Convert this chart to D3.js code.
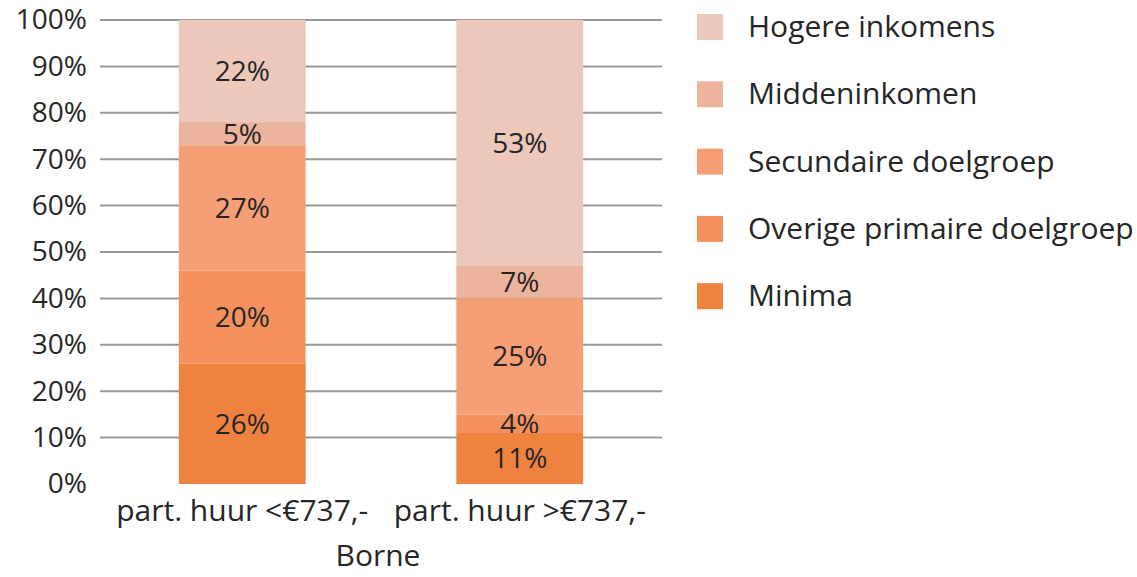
<!DOCTYPE html>
<html>
<head>
<meta charset="utf-8">
<script src="https://cdn.jsdelivr.net/npm/d3@7"></script>
<style>
  body { margin: 0; background: #fff; }
  svg text { font-family: "Open Sans", sans-serif; fill: #262626; }
</style>
</head>
<body>
<div id="chart"></div>
<script>
// data
const categories = ['part. huur <€737,-', 'part. huur >€737,-']
const groupLabel = 'Borne'
const seriesNames = ['Minima', 'Overige primaire doelgroep', 'Secundaire doelgroep', 'Middeninkomen', 'Hogere inkomens']
const minima = [26, 11]
const overige = [20, 4]
const secundaire = [27, 25]
const midden = [5, 7]
const hogere = [22, 53]
const yTicks = [0, 10, 20, 30, 40, 50, 60, 70, 80, 90, 100]
const colors = ['#ef823f', '#f4915e', '#f69f77', '#edb49d', '#ecc8ba']

const w = 1137
const h = 577

const rows = categories.map((c, i) => ({
  cat: c,
  'Minima': minima[i],
  'Overige primaire doelgroep': overige[i],
  'Secundaire doelgroep': secundaire[i],
  'Middeninkomen': midden[i],
  'Hogere inkomens': hogere[i]
}))

const stacked = d3.stack().keys(seriesNames)(rows)

const x = d3.scaleBand()
  .domain(categories)
  .range([100, 662])
  .paddingInner(0.543)
  .paddingOuter(0.284)

const y = d3.scaleLinear().domain([0, 100]).range([484, 20])

const svg = d3.select('#chart')
  .append('svg')
  .attr('width', w)
  .attr('height', h)

// gridlines (no line at 0)
svg.append('g')
  .selectAll('line')
  .data(yTicks.filter(d => d > 0))
  .enter()
  .append('line')
  .attr('x1', 100)
  .attr('x2', 662)
  .attr('y1', d => y(d))
  .attr('y2', d => y(d))
  .attr('stroke', '#999')
  .attr('stroke-width', 2)

// y axis labels
const yAxis = svg.append('g')
  .attr('transform', 'translate(87,0)')
  .call(d3.axisLeft(y).tickValues(yTicks).tickFormat(d => d + '%').tickSize(0).tickPadding(0))
yAxis.select('.domain').remove()
yAxis.selectAll('text')
  .attr('font-size', 28)
  .attr('font-family', 'Open Sans, sans-serif')
  .attr('fill', '#262626')

// bars: draw top series first so lower segments overlap labels above them
const layers = stacked.slice().reverse()
layers.forEach(layer => {
  const ci = seriesNames.indexOf(layer.key)
  const g = svg.append('g')
  g.selectAll('rect')
    .data(layer)
    .enter()
    .append('rect')
    .attr('x', d => x(d.data.cat))
    .attr('width', x.bandwidth())
    .attr('y', d => y(d[1]))
    .attr('height', d => y(d[0]) - y(d[1]))
    .attr('fill', colors[ci])
  g.selectAll('text')
    .data(layer)
    .enter()
    .append('text')
    .attr('x', d => x(d.data.cat) + x.bandwidth() / 2)
    .attr('y', d => (y(d[0]) + y(d[1])) / 2 + 10)
    .attr('text-anchor', 'middle')
    .attr('font-size', 28)
    .text(d => (d[1] - d[0]) + '%')
})

// category labels
svg.append('g')
  .selectAll('text')
  .data(categories)
  .enter()
  .append('text')
  .attr('x', d => x(d) + x.bandwidth() / 2)
  .attr('y', 521)
  .attr('text-anchor', 'middle')
  .attr('font-size', 30)
  .text(d => d)

svg.append('text')
  .attr('x', 378)
  .attr('y', 566)
  .attr('text-anchor', 'middle')
  .attr('font-size', 30)
  .text(groupLabel)

// legend, top series first
const legend = svg.append('g')
  .selectAll('g')
  .data(seriesNames.slice().reverse())
  .enter()
  .append('g')
  .attr('transform', (d, i) => `translate(697, ${14 + i * 67.3})`)
legend.append('rect')
  .attr('width', 26)
  .attr('height', 26)
  .attr('fill', d => colors[seriesNames.indexOf(d)])
legend.append('text')
  .attr('x', 51)
  .attr('y', 23)
  .attr('font-size', 30)
  .text(d => d)
</script>
</body>
</html>
